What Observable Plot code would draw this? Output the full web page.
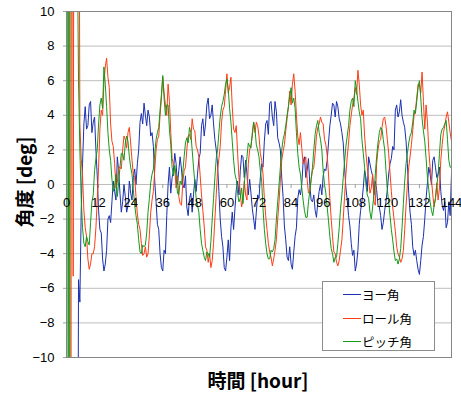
<!DOCTYPE html>
<html><head><meta charset="utf-8">
<script src="https://cdn.jsdelivr.net/npm/d3@7"></script>
<script src="https://cdn.jsdelivr.net/npm/@observablehq/plot@0.6"></script>
<style>
body{margin:0;background:#fff;}
#wrap{position:relative;width:461px;height:399px;overflow:hidden;font-family:"Liberation Sans",Arial,sans-serif;}
#wrap svg{position:absolute;left:0;top:0;}
.ytitle{position:absolute;left:23px;top:182px;transform:translate(-50%,-50%) rotate(-90deg);font-family:"Noto Sans CJK JP",sans-serif;font-weight:bold;font-size:19px;white-space:nowrap;color:#000;}
.xtitle{position:absolute;left:258px;top:379px;transform:translate(-50%,-50%);font-family:"Noto Sans CJK JP",sans-serif;font-weight:bold;font-size:19px;white-space:nowrap;color:#000;}
.legend{position:absolute;left:322px;top:281px;width:113px;height:70px;box-sizing:border-box;border:1px solid #8c8c8c;background:#fff;}
.row{position:absolute;left:20px;height:16px;display:flex;align-items:center;font-family:"Noto Sans CJK JP",sans-serif;font-size:12.5px;color:#000;white-space:nowrap;}
.row i{display:inline-block;width:18px;height:1px;margin-right:1px;}
</style>
</head><body>
<div id="wrap"></div>
<script>
const seriesNames = ["ヨー角", "ロール角", "ピッチ角"];
const seriesColors = ["#1a30b0", "#ff3d14", "#14991a"];
const xTicks = [0, 12, 24, 36, 48, 60, 72, 84, 96, 108, 120, 132, 144];
const yTicks = [-10, -8, -6, -4, -2, 0, 2, 4, 6, 8, 10];
// sample times every half hour, 0 .. 144
const hours = d3.range(0, 144.5, 0.5);

// each row = 6 hours (12 half-hour samples)
const yaw = [
  -30, -30, -30, -30, -30, -30, -30, -30, -30, -5.5, -6.8, -1.5,
  1.2, 3.5, 4.5, 3.2, 3.4, 4.6, 4.8, 3.0, 3.6, 3.9, 2.0, 0.5,
  -1.5, -2.6, -2.8, -4.3, -5.0, -4.6, -3.8, -2.0, -1.8, -2.2, -1.0, 0.2,
  -0.4, -0.9, 1.6, 0.8, -0.5, -1.6, -1.0, 0.0, -0.7, -1.6, -1.2, 0.2,
  -0.5, -0.9, 0.4, 0.9, 0.0, 1.2, 2.0, 3.6, 4.1, 3.5, 4.7, 4.0,
  3.4, 4.3, 3.9, 2.8, 3.0, 2.2, 0.2, -1.0, -2.3, -2.6, -4.0, -4.8,
  -5.0, -3.8, -4.0, -1.8, 0.0, 1.0, -0.5, 0.4, 0.8, 1.8, 1.2, 0.0,
  0.8, 1.6, 0.9, 0.0, -0.2, 0.5, -1.3, -1.8, -0.8, -0.5, -1.6, -0.6,
  0.3, -0.4, 0.6, 1.5, 1.8, 3.4, 3.8, 2.8, 3.5, 4.6, 5.0, 3.8,
  4.0, 4.6, 3.5, 2.6, 2.0, 1.2, -0.4, -2.0, -3.0, -3.6, -4.8, -5.0,
  -4.2, -3.2, -4.4, -2.5, -1.6, -2.6, -1.4, -0.3, 0.2, -0.6, 0.8, 1.7,
  1.6, 0.4, 1.4, 0.6, -0.6, 0.3, -0.5, -1.4, -2.0, -2.6, -1.6, -0.6,
  -0.8, 0.4, 1.2, 1.0, 2.5, 3.5, 3.7, 2.9, 4.7, 4.8, 3.9, 3.4,
  4.8, 4.2, 2.7, 2.4, 2.0, 0.4, -0.7, -2.4, -3.2, -4.2, -4.4, -3.6,
  -4.6, -4.9, -3.9, -3.0, -2.5, -0.8, -0.3, -0.6, 0.0, 1.3, 1.6, 0.4,
  0.8, 1.5, 0.0, -0.9, -1.0, -0.6, -1.5, -1.9, -1.0, -0.4, 0.0, -0.6,
  0.5, 0.9, 0.8, 1.4, 2.4, 3.4, 4.0, 4.7, 4.6, 3.9, 4.8, 4.5,
  3.8, 3.5, 3.0, 2.4, 1.0, -0.2, -0.9, -1.8, -2.4, -3.4, -4.1, -3.8,
  -5.0, -4.6, -3.8, -2.3, -1.5, -1.0, -0.2, 0.8, 0.4, -0.4, 1.6, 1.2,
  0.8, 0.5, -0.6, 0.2, -0.3, -1.2, -1.3, -1.8, -2.6, -2.2, -1.5, -1.0,
  -0.3, 0.6, 1.2, 1.5, 2.2, 2.0, 4.3, 4.6, 3.9, 4.2, 4.9, 4.0,
  3.6, 3.3, 2.5, 1.2, -0.5, -1.6, -2.3, -3.6, -4.1, -3.8, -4.4, -4.9,
  -5.2, -4.4, -3.5, -3.0, -2.0, -0.8, 0.1, 1.0, 0.6, 0.0, 1.4, 1.6,
  1.0, 0.4, 0.6, 1.0, -0.4, -1.2, -1.5, -1.0, -2.5, -2.2, -1.0, -1.8,
  0.6
];
const roll = [
  60, 60, 60, -60, 60, -5.3, 40, 40, 40, 30, 3.5, 1.5,
  0.5, -1.5, -2.5, -3.0, -4.3, -4.9, -4.6, -4.0, -4.0, -3.6, -2.5, -0.9,
  1.0, 3.2, 4.3, 4.0, 5.9, 6.8, 7.3, 6.2, 5.6, 3.5, 2.5, 2.2,
  1.2, -0.2, 0.1, 1.0, 1.0, 0.9, 2.0, 2.8, 2.6, 2.1, 3.0, 3.3,
  2.4, 1.4, 0.6, 0.4, -0.7, -1.7, -2.3, -2.6, -3.4, -4.1, -4.0, -3.6,
  -4.2, -4.0, -2.9, -1.6, -0.9, -0.4, 0.8, 2.0, 2.6, 2.8, 4.0, 5.0,
  6.2, 5.3, 4.6, 4.0, 5.8, 4.8, 3.0, 1.5, 1.2, 0.9, -0.2, 0.5,
  -0.7, -1.1, -1.2, 0.1, 0.8, 1.0, 2.0, 2.8, 2.9, 2.6, 3.8, 3.2,
  3.1, 2.2, 2.0, 1.6, 0.5, -0.6, -1.5, -2.4, -3.6, -3.8, -4.5, -4.0,
  -4.8, -4.4, -3.4, -2.0, -0.6, 0.8, 1.5, 2.2, 3.6, 4.3, 4.5, 5.4,
  6.4, 5.3, 5.6, 6.2, 4.5, 3.2, 3.0, 3.4, 1.8, 0.4, -0.5, -1.3,
  -0.9, 0.2, -0.6, -0.9, 1.2, 2.0, 2.3, 2.8, 3.6, 3.0, 3.6, 3.4,
  2.8, 1.8, 1.4, 0.6, -0.8, -1.8, -2.6, -3.4, -3.9, -4.2, -4.7, -4.3,
  -3.8, -3.2, -2.0, -1.0, 0.3, 1.4, 1.9, 2.3, 3.1, 3.8, 4.5, 5.4,
  4.6, 5.8, 6.4, 5.4, 4.0, 2.8, 2.3, 3.0, 2.1, 1.2, 1.3, 1.6,
  0.3, -0.5, -0.4, 0.3, 0.8, 1.0, 1.8, 2.8, 3.3, 3.5, 3.9, 3.6,
  3.5, 2.6, 2.3, 1.7, 0.6, -0.8, -2.0, -3.0, -3.9, -4.0, -4.5, -4.7,
  -4.4, -3.8, -3.2, -2.0, -0.7, 0.6, 1.6, 2.4, 3.4, 4.0, 4.6, 5.0,
  5.6, 5.2, 6.6, 5.8, 4.6, 4.0, 4.3, 2.8, 1.8, 1.0, 0.3, -0.5,
  -0.2, 0.6, -1.0, -1.2, 1.2, 2.0, 2.5, 2.6, 3.3, 3.8, 3.9, 3.4,
  2.6, 1.8, 0.7, -0.4, -1.3, -2.0, -2.7, -3.6, -4.0, -4.2, -4.5, -4.3,
  -3.8, -2.6, -1.2, 0.0, 1.0, 1.6, 2.3, 3.1, 4.0, 4.3, 5.0, 5.8,
  5.8, 5.3, 6.5, 4.8, 3.2, 4.6, 3.6, 2.0, 1.0, 0.3, -0.6, -1.3,
  -0.8, 0.1, -0.9, -0.2, 1.4, 2.3, 3.0, 3.4, 3.9, 4.2, 3.6, 3.0,
  2.5
];
const pitch = [
  -60, 60, -60, 60, 50, 45, 40, 30, 15, 6, 2.0, -0.8,
  -2.5, -3.4, -3.6, -3.0, -3.3, -3.5, -2.2, -1.0, -0.6, 0.8, 1.5, 2.0,
  3.5, 4.6, 5.0, 4.4, 6.8, 5.8, 4.5, 3.0, 2.0, 1.4, 0.3, -0.4,
  -0.1, 0.6, -0.7, 0.1, 1.0, 1.8, 1.8, 1.4, 2.4, 2.8, 2.5, 1.6,
  1.0, 0.6, -0.3, -1.2, -1.8, -2.3, -3.2, -3.9, -4.0, -3.5, -3.6, -3.5,
  -2.8, -1.6, -0.8, 0.1, 0.6, 0.9, 1.8, 2.6, 3.0, 3.3, 4.3, 5.2,
  6.3, 5.0, 4.0, 4.6, 4.6, 3.2, 2.3, 1.0, 0.5, 1.1, 0.5, -0.5,
  -0.6, 0.2, 0.0, 0.7, 1.6, 2.4, 2.7, 2.4, 3.3, 3.0, 2.0, 1.0,
  0.1, -0.8, -1.2, -1.6, -2.6, -3.4, -3.8, -4.2, -4.4, -3.9, -4.0, -4.2,
  -3.3, -2.0, -0.8, 0.4, 1.5, 2.0, 3.0, 3.9, 4.5, 4.8, 5.2, 5.8,
  6.1, 5.5, 4.4, 3.6, 2.5, 1.4, 0.6, 0.3, -0.5, -1.0, -0.8, -0.2,
  -1.1, 0.0, 1.0, 1.6, 2.4, 2.2, 2.1, 3.0, 3.6, 3.2, 2.3, 2.0,
  1.6, 0.8, 0.2, -1.4, -2.6, -3.4, -4.0, -4.3, -4.3, -3.8, -3.9, -3.7,
  -3.2, -2.0, -1.0, 0.0, 1.0, 2.0, 2.6, 2.9, 3.4, 4.0, 4.5, 5.1,
  5.6, 4.7, 5.0, 4.4, 3.0, 1.8, 1.0, 0.6, -0.2, -0.9, -1.5, -1.9,
  -1.9, -1.0, -0.4, 0.3, 1.0, 2.0, 2.9, 3.4, 3.7, 3.0, 2.6, 2.0,
  0.8, 0.0, -0.5, -1.3, -2.1, -3.0, -3.7, -4.0, -4.5, -4.2, -4.2, -3.4,
  -2.5, -1.4, -0.6, 0.4, 1.3, 2.2, 2.8, 3.4, 4.3, 4.8, 5.0, 4.5,
  6.0, 5.5, 4.8, 4.2, 3.8, 2.6, 1.8, 1.0, 0.0, -0.6, -0.8, -1.6,
  -2.0, -1.3, -0.6, 0.6, 1.6, 2.4, 3.0, 3.3, 3.2, 2.6, 2.0, 0.8,
  -0.3, -1.0, -1.8, -2.6, -3.2, -3.9, -4.4, -4.3, -4.6, -4.3, -3.7, -2.5,
  -1.1, 0.2, 1.2, 1.8, 2.4, 2.8, 3.0, 3.6, 4.3, 4.1, 4.8, 5.6,
  6.0, 5.0, 3.8, 3.1, 2.5, 1.5, 0.4, -0.3, -1.0, -1.5, -1.8, -1.2,
  -0.8, -0.1, 0.6, 1.8, 2.9, 3.2, 3.3, 3.5, 3.7, 2.6, 1.4, 1.0,
  1.0
];

const seriesValues = [yaw, roll, pitch];
const rows = [];
seriesValues.forEach((vals, s) => {
  hours.forEach((h, i) => rows.push({series: seriesNames[s], h, v: vals[i]}));
});

const lineMarks = seriesNames.map((name, s) =>
  Plot.line(rows.filter(d => d.series === name), {
    x: "h", y: "v", stroke: seriesColors[s], strokeWidth: 1, clip: true
  })
);

const chart = Plot.plot({
  width: 461, height: 399,
  marginLeft: 66, marginRight: 10, marginTop: 11, marginBottom: 42,
  x: {domain: [0, 144], axis: null},
  y: {domain: [-10, 10], axis: null},
  style: {fontFamily: "'Liberation Sans', Arial, sans-serif", fontSize: "13px", color: "#000", background: "transparent"},
  marks: [
    Plot.gridY(yTicks, {stroke: "#bdbdbd", strokeOpacity: 1}),
    Plot.axisY(yTicks, {tickSize: 3, tickPadding: 9, stroke: "#a0a0a0", label: null, fontSize: 13}),
    Plot.ruleX(xTicks, {x: d => d, y1: 0, y2: 0, insetBottom: -4, stroke: "#a0a0a0"}),
    ...lineMarks,
    Plot.frame({stroke: "#868686"}),
    Plot.text(xTicks, {x: d => d, y: 0, text: d => String(d), dy: 18, lineAnchor: "middle", textAnchor: "middle", fontSize: 13, fill: "#000"})
  ]
});

const wrap = document.getElementById("wrap");
wrap.appendChild(chart);

const yt = document.createElement("div"); yt.className = "ytitle"; yt.textContent = "角度 [deg]"; wrap.appendChild(yt);
const xt = document.createElement("div"); xt.className = "xtitle"; xt.textContent = "時間 [hour]"; wrap.appendChild(xt);

const leg = document.createElement("div"); leg.className = "legend";
const rowTops = [4, 28, 51];
seriesNames.forEach((name, s) => {
  const r = document.createElement("div"); r.className = "row"; r.style.top = rowTops[s] + "px";
  const sw = document.createElement("i"); sw.style.background = seriesColors[s];
  r.appendChild(sw); r.appendChild(document.createTextNode(name));
  leg.appendChild(r);
});
wrap.appendChild(leg);
</script>
</body></html>
